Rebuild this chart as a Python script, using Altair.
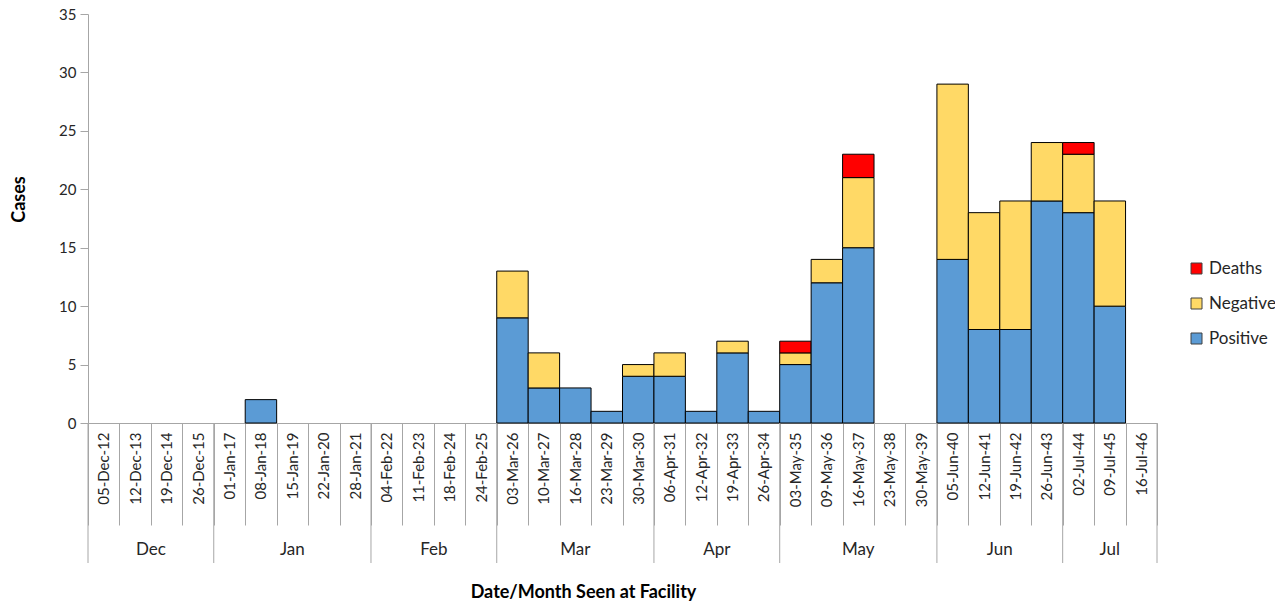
import altair as alt
import pandas as pd

weeks = [
    "05-Dec-12", "12-Dec-13", "19-Dec-14", "26-Dec-15",
    "01-Jan-17", "08-Jan-18", "15-Jan-19", "22-Jan-20", "28-Jan-21",
    "04-Feb-22", "11-Feb-23", "18-Feb-24", "24-Feb-25",
    "03-Mar-26", "10-Mar-27", "16-Mar-28", "23-Mar-29", "30-Mar-30",
    "06-Apr-31", "12-Apr-32", "19-Apr-33", "26-Apr-34",
    "03-May-35", "09-May-36", "16-May-37", "23-May-38", "30-May-39",
    "05-Jun-40", "12-Jun-41", "19-Jun-42", "26-Jun-43",
    "02-Jul-44", "09-Jul-45", "16-Jul-46",
]
month_names = ["Dec", "Jan", "Feb", "Mar", "Apr", "May", "Jun", "Jul"]
month_week_counts = [4, 5, 4, 5, 4, 5, 4, 3]

positive = [0, 0, 0, 0,
            0, 2, 0, 0, 0,
            0, 0, 0, 0,
            9, 3, 3, 1, 4,
            4, 1, 6, 1,
            5, 12, 15, 0, 0,
            14, 8, 8, 19,
            18, 10, 0]
negative = [0, 0, 0, 0,
            0, 0, 0, 0, 0,
            0, 0, 0, 0,
            4, 3, 0, 0, 1,
            2, 0, 1, 0,
            1, 2, 6, 0, 0,
            15, 10, 11, 5,
            5, 9, 0]
deaths = [0, 0, 0, 0,
          0, 0, 0, 0, 0,
          0, 0, 0, 0,
          0, 0, 0, 0, 0,
          0, 0, 0, 0,
          1, 0, 2, 0, 0,
          0, 0, 0, 0,
          1, 0, 0]

series_names = ["Positive", "Negative", "Deaths"]
legend_order = ["Deaths", "Negative", "Positive"]
legend_colors = ["#FF0000", "#FFD966", "#5B9BD5"]

rows = []
for i, w in enumerate(weeks):
    for k, (name, vals) in enumerate(zip(series_names, [positive, negative, deaths])):
        if vals[i] > 0:
            rows.append({"week": w, "series": name, "value": vals[i], "order": k})
bars_df = pd.DataFrame(rows)

bounds = [0]
for c in month_week_counts:
    bounds.append(bounds[-1] + c)
month_df = pd.DataFrame({
    "month": month_names,
    "mid": [(bounds[i] + bounds[i + 1]) / 2 for i in range(len(month_names))],
})
sep_df = pd.DataFrame({"pos": bounds})

W = 1069
H = 409
FONT = "Lato"
GRAY = "#A6A6A6"
TXT = "#262626"

bars = alt.Chart(bars_df).mark_bar(stroke="black", strokeWidth=1).encode(
    x=alt.X(
        "week:N",
        sort=weeks,
        scale=alt.Scale(domain=weeks, paddingInner=0, paddingOuter=0),
        axis=alt.Axis(
            title="Date/Month Seen at Facility",
            labelAngle=270,
            labelAlign="right",
            labelBaseline="middle",
            labelPadding=-93,
            labelOverlap=False,
            labelFontSize=15,
            labelColor=TXT,
            tickBand="extent",
            tickSize=102,
            tickColor=GRAY,
            domainColor=GRAY,
            titleFontSize=18,
            titleFontWeight="bold",
            titleColor="black",
            titleX=495,
            titleY=169,
            titleBaseline="middle",
        ),
    ),
    y=alt.Y(
        "value:Q",
        stack="zero",
        scale=alt.Scale(domain=[0, 35], nice=False),
        axis=alt.Axis(
            title="Cases",
            values=list(range(0, 36, 5)),
            grid=False,
            tickSize=8,
            tickColor=GRAY,
            domainColor=GRAY,
            labelPadding=4,
            labelFontSize=15,
            labelColor=TXT,
            titleFontSize=18,
            titleFontWeight="bold",
            titleColor="black",
            titleX=-64,
            titleY=185,
            titleBaseline="alphabetic",
        ),
    ),
    color=alt.Color(
        "series:N",
        scale=alt.Scale(domain=legend_order, range=legend_colors),
        legend=alt.Legend(
            title=None,
            orient="none",
            legendX=1100,
            legendY=246,
            symbolType="square",
            symbolSize=121,
            symbolStrokeColor="#404040",
            symbolStrokeWidth=1,
            labelFontSize=17,
            labelColor=TXT,
            labelOffset=4,
            rowPadding=17,
            padding=0,
        ),
    ),
    order=alt.Order("order:Q"),
)

xq = alt.Scale(domain=[0, len(weeks)], nice=False, zero=False)

seps = alt.Chart(sep_df).mark_rule(color=GRAY, strokeWidth=1).encode(
    x=alt.X("pos:Q", scale=xq, axis=None),
    y=alt.value(H),
    y2=alt.value(H + 140),
)

mlabels = alt.Chart(month_df).mark_text(fontSize=17, color=TXT, font=FONT, baseline="middle").encode(
    x=alt.X("mid:Q", scale=xq, axis=None),
    y=alt.value(H + 127),
    text="month:N",
)

chart = alt.layer(bars, seps, mlabels).resolve_scale(x="independent").properties(
    width=W,
    height=H,
    padding={"left": 80, "top": 6, "right": 118, "bottom": 180},
    autosize=alt.AutoSizeParams(type="none"),
).configure(font=FONT).configure_view(stroke=None)

chart.save("out.html", embed_options={"renderer": "svg", "actions": False})
